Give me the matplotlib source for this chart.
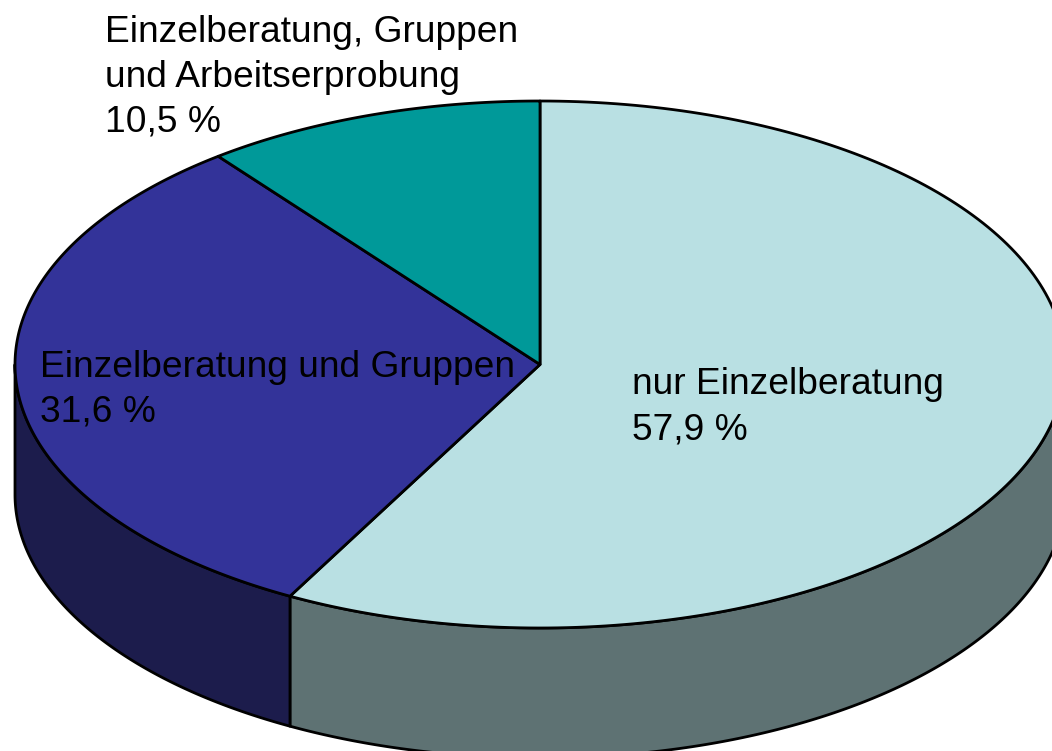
import numpy as np
import matplotlib
matplotlib.use("Agg")
import matplotlib.pyplot as plt
from matplotlib.patches import Polygon

# ---- data ----
categories = ["nur Einzelberatung", "Einzelberatung und Gruppen",
              "Einzelberatung, Gruppen und Arbeitserprobung"]
values = [57.9, 31.6, 10.5]
value_labels = ["57,9 %", "31,6 %", "10,5 %"]
label_lines = [["nur Einzelberatung", "57,9 %"],
               ["Einzelberatung und Gruppen", "31,6 %"],
               ["Einzelberatung, Gruppen", "und Arbeitserprobung", "10,5 %"]]
top_colors = ["#B9E0E3", "#333399", "#009999"]
side_colors = ["#5E7273", "#1C1C4C", "#004C4C"]

# ---- geometry (pixels) ----
W, H = 1052, 751
cx, cy, rx, ry, depth = 540, 364.5, 525, 263.5, 130
label_pos = [(632, 394), (40, 377), (105, 42)]
line_step = 45

fig = plt.figure(figsize=(W / 100, H / 100), dpi=100)
ax = fig.add_axes([0, 0, 1, 1])
ax.set_xlim(0, W)
ax.set_ylim(H, 0)
ax.axis("off")


def arc(a1, a2, n=200, dy=0.0):
    t = np.radians(np.linspace(a1, a2, n))
    return np.column_stack([cx + rx * np.cos(t), cy - ry * np.sin(t) + dy])


total = sum(values)
start = 90.0
ranges = []
for v in values:
    end = start - 360.0 * v / total
    ranges.append((end, start))
    start = end

# sides (visible front: angles in [-180, 0])
for (a_lo, a_hi), sc in zip(ranges, side_colors):
    lo, hi = max(a_lo, -180.0), min(a_hi, 0.0)
    if hi <= lo:
        continue
    top = arc(lo, hi)
    bot = arc(hi, lo, dy=depth)
    ax.add_patch(Polygon(np.vstack([top, bot]), closed=True, facecolor=sc,
                         edgecolor="black", linewidth=2.0, joinstyle="round"))

# top faces
for (a_lo, a_hi), tc in zip(ranges, top_colors):
    pts = np.vstack([[cx, cy], arc(a_hi, a_lo)])
    ax.add_patch(Polygon(pts, closed=True, facecolor=tc, edgecolor="black",
                         linewidth=2.0, joinstyle="round"))

# labels
for lines, (x, y) in zip(label_lines, label_pos):
    for i, s in enumerate(lines):
        ax.text(x, y + i * line_step, s, fontsize=26.7, family="Liberation Sans",
                ha="left", va="baseline", color="black")

fig.savefig("out.png", dpi=100)
